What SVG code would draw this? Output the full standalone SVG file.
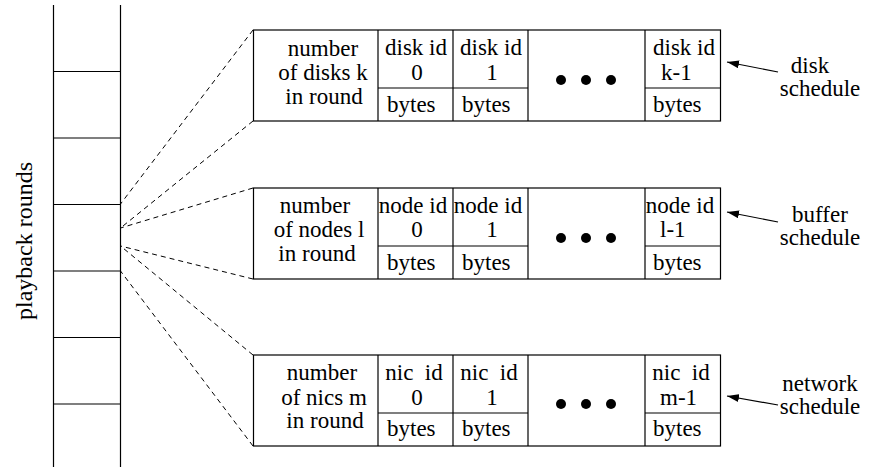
<svg xmlns="http://www.w3.org/2000/svg" width="870" height="467" viewBox="0 0 870 467" font-family="'Liberation Serif', 'DejaVu Serif', serif">
  <style>
    text { font-family: 'Liberation Serif', 'Times New Roman', 'DejaVu Serif', serif; font-size: 23px; fill: #000; }
    .c { text-anchor: middle; }
    .side { font-size: 24px; }
    .frame { fill: #fff; stroke: #000; stroke-width: 1.2; }
    .rule { stroke: #000; stroke-width: 1.2; fill: none; }
    .dash { stroke: #000; stroke-width: 1; stroke-dasharray: 5 4; fill: none; }
    .ptr { stroke: #000; stroke-width: 1.2; fill: none; marker-end: url(#head); }
  </style>
  <defs>
    <marker id="head" viewBox="0 0 12 8" refX="12" refY="4" markerWidth="12" markerHeight="8" markerUnits="userSpaceOnUse" orient="auto">
      <path d="M0,0 L12,4 L0,8 Z" fill="#000"/>
    </marker>
  </defs>

  <!-- column of playback rounds -->
  <g id="rounds">
    <line class="rule" x1="53.5" y1="5" x2="53.5" y2="467"/>
    <line class="rule" x1="120.5" y1="5" x2="120.5" y2="467"/>
    <line class="rule" x1="53" y1="71.5" x2="120" y2="71.5"/>
    <line class="rule" x1="53" y1="138" x2="120" y2="138"/>
    <line class="rule" x1="53" y1="204.5" x2="120" y2="204.5"/>
    <line class="rule" x1="53" y1="271" x2="120" y2="271"/>
    <line class="rule" x1="53" y1="337.5" x2="120" y2="337.5"/>
    <line class="rule" x1="53" y1="404" x2="120" y2="404"/>
    <text class="c side" transform="translate(32,241) rotate(-90)">playback rounds</text>
  </g>

  <!-- dashed expansion lines from one round to the schedules -->
  <g id="connectors">
    <line class="dash" x1="253" y1="30" x2="120.5" y2="204"/>
    <line class="dash" x1="253" y1="121" x2="120.5" y2="228"/>
    <line class="dash" x1="253" y1="188" x2="120.5" y2="228"/>
    <line class="dash" x1="253" y1="279" x2="120.5" y2="246"/>
    <line class="dash" x1="253" y1="355" x2="120.5" y2="246"/>
    <line class="dash" x1="253" y1="446" x2="120.5" y2="271"/>
    <line class="ptr" x1="778" y1="72" x2="727" y2="62"/>
    <line class="ptr" x1="778" y1="222" x2="727" y2="212"/>
    <line class="ptr" x1="778" y1="405" x2="727" y2="396"/>
  </g>

  <!-- disk schedule record -->
  <g id="disk-schedule">
    <rect class="frame" x="253.5" y="30" width="467" height="91"/>
    <line class="rule" x1="378" y1="30" x2="378" y2="121"/>
    <line class="rule" x1="453" y1="30" x2="453" y2="121"/>
    <line class="rule" x1="528" y1="30" x2="528" y2="121"/>
    <line class="rule" x1="645" y1="30" x2="645" y2="121"/>
    <line class="rule" x1="378" y1="88" x2="528" y2="88"/>
    <line class="rule" x1="645" y1="88" x2="720" y2="88"/>
    <text class="c" x="323" y="56">number</text>
    <text class="c" x="323" y="80">of disks k</text>
    <text class="c" x="324" y="104">in round</text>
    <text class="c" x="416" y="55">disk id</text>
    <text class="c" x="417" y="80">0</text>
    <text x="387" y="112">bytes</text>
    <text class="c" x="491" y="55">disk id</text>
    <text class="c" x="492" y="80">1</text>
    <text x="462" y="112">bytes</text>
    <circle cx="561" cy="80" r="5"/>
    <circle cx="586" cy="80" r="5"/>
    <circle cx="611" cy="80" r="5"/>
    <text class="c" x="684" y="55">disk id</text>
    <text x="661" y="80">k-1</text>
    <text x="653" y="112">bytes</text>
  </g>
  <g id="disk-label">
    <text class="c" x="810" y="73">disk</text>
    <text class="c" x="820" y="96">schedule</text>
  </g>

  <!-- buffer schedule record -->
  <g id="buffer-schedule">
    <rect class="frame" x="253.5" y="188" width="467" height="91"/>
    <line class="rule" x1="378" y1="188" x2="378" y2="279"/>
    <line class="rule" x1="453" y1="188" x2="453" y2="279"/>
    <line class="rule" x1="528" y1="188" x2="528" y2="279"/>
    <line class="rule" x1="645" y1="188" x2="645" y2="279"/>
    <line class="rule" x1="378" y1="246" x2="528" y2="246"/>
    <line class="rule" x1="645" y1="246" x2="720" y2="246"/>
    <text class="c" x="315" y="213">number</text>
    <text class="c" x="319" y="237">of nodes l</text>
    <text class="c" x="317" y="261">in round</text>
    <text class="c" x="413" y="213">node id</text>
    <text class="c" x="417" y="237">0</text>
    <text x="387" y="270">bytes</text>
    <text class="c" x="488" y="213">node id</text>
    <text class="c" x="492" y="237">1</text>
    <text x="462" y="270">bytes</text>
    <circle cx="561" cy="238" r="5"/>
    <circle cx="586" cy="238" r="5"/>
    <circle cx="611" cy="238" r="5"/>
    <text class="c" x="680" y="213">node id</text>
    <text x="660" y="237">l-1</text>
    <text x="653" y="270">bytes</text>
  </g>
  <g id="buffer-label">
    <text class="c" x="820" y="222">buffer</text>
    <text class="c" x="820" y="245">schedule</text>
  </g>

  <!-- network schedule record -->
  <g id="network-schedule">
    <rect class="frame" x="253.5" y="355" width="467" height="91"/>
    <line class="rule" x1="378" y1="355" x2="378" y2="446"/>
    <line class="rule" x1="453" y1="355" x2="453" y2="446"/>
    <line class="rule" x1="528" y1="355" x2="528" y2="446"/>
    <line class="rule" x1="645" y1="355" x2="645" y2="446"/>
    <line class="rule" x1="378" y1="413" x2="528" y2="413"/>
    <line class="rule" x1="645" y1="413" x2="720" y2="413"/>
    <text class="c" x="322" y="380">number</text>
    <text class="c" x="324" y="405">of nics m</text>
    <text class="c" x="325" y="428">in round</text>
    <text class="c" x="414" y="380" xml:space="preserve">nic  id</text>
    <text class="c" x="417" y="405">0</text>
    <text x="387" y="436">bytes</text>
    <text class="c" x="489" y="380" xml:space="preserve">nic  id</text>
    <text class="c" x="492" y="405">1</text>
    <text x="462" y="436">bytes</text>
    <circle cx="561" cy="404" r="5"/>
    <circle cx="586" cy="404" r="5"/>
    <circle cx="611" cy="404" r="5"/>
    <text class="c" x="681" y="380" xml:space="preserve">nic  id</text>
    <text x="660" y="405">m-1</text>
    <text x="653" y="436">bytes</text>
  </g>
  <g id="network-label">
    <text class="c" x="820" y="391">network</text>
    <text class="c" x="820" y="414">schedule</text>
  </g>
</svg>
